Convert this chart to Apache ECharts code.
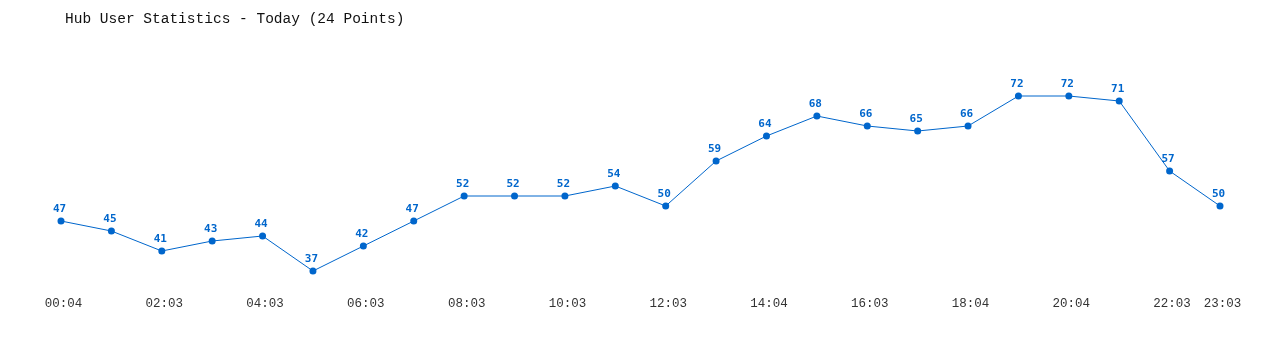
<!DOCTYPE html>
<html>
<head>
<meta charset="utf-8">
<script src="https://cdn.jsdelivr.net/npm/echarts@6/dist/echarts.min.js"></script>
<style>html,body{margin:0;padding:0;background:#fff}#c{width:1280px;height:350px}</style>
</head>
<body>
<div id="c"></div>
<script>
var categories = ["00:04","01:03","02:03","03:03","04:03","05:03","06:03","07:03","08:03","09:03","10:03","11:03","12:03","13:03","14:04","15:03","16:03","17:03","18:04","19:03","20:04","21:03","22:03","23:03"];
var users = [47,45,41,43,44,37,42,47,52,52,52,54,50,59,64,68,66,65,66,72,72,71,57,50];
var chart = echarts.init(document.getElementById('c'));
chart.setOption({
  animation: false,
  backgroundColor: '#ffffff',
  title: {
    text: 'Hub User Statistics - Today (24 Points)',
    left: 60, top: 7,
    textStyle: {fontFamily: 'Liberation Mono', fontSize: 14.5, fontWeight: 'normal', color: '#111'}
  },
  grid: {left: 61, right: 60, top: 46, bottom: 59},
  xAxis: {
    type: 'category', data: categories, boundaryGap: false,
    axisLine: {show: false}, axisTick: {show: false},
    axisLabel: {
      interval: function (i) { return i % 2 === 0 || i === categories.length - 1; },
      fontFamily: 'Liberation Mono', fontSize: 12.5, color: '#333', margin: 6,
      padding: [0, 0, 0, 5]
    },
    splitLine: {show: false}
  },
  yAxis: {type: 'value', min: 33, max: 82, show: false, splitLine: {show: false}},
  series: [{
    type: 'line', data: users,
    symbol: 'circle', symbolSize: 7,
    lineStyle: {color: '#0066cc', width: 1},
    itemStyle: {color: '#0066cc'},
    label: {show: true, position: 'top', distance: 3, color: '#0066cc', fontFamily: 'DejaVu Sans Mono', fontWeight: 'bold', fontSize: 11, padding: [0, 3, 0, 0]}
  }]
});
</script>
</body>
</html>
